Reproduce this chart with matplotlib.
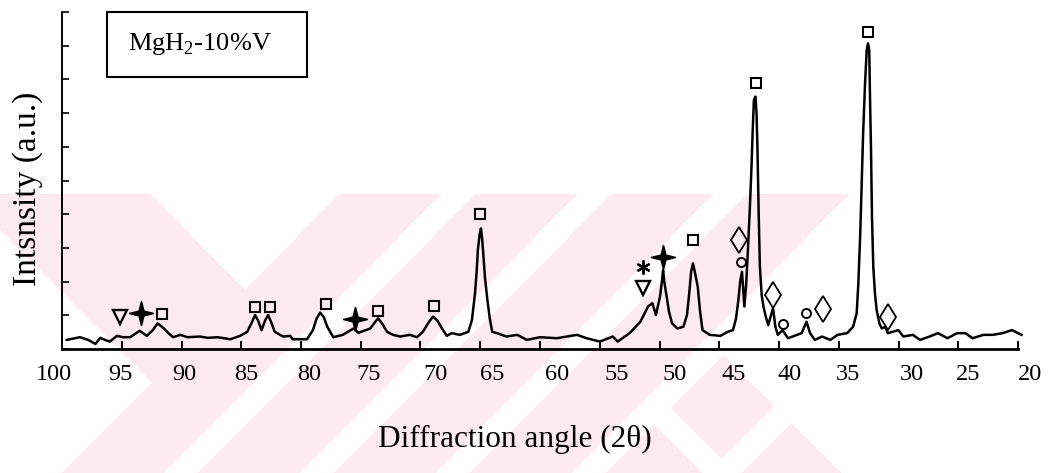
import numpy as np
import matplotlib
matplotlib.use('Agg')
import matplotlib.pyplot as plt
from matplotlib.patches import Rectangle
from matplotlib.path import Path
from matplotlib.transforms import ScaledTranslation

plt.rcParams['font.family'] = ['Liberation Serif', 'DejaVu Serif']
plt.rcParams['mathtext.fontset'] = 'custom'
plt.rcParams['mathtext.rm'] = 'Liberation Serif'

# XRD trace: diffraction angle (2theta) and intensity (a.u.)
two_theta = [99.6, 98.5, 97.8, 97.2, 96.8, 96.4, 96.0, 95.4, 94.9, 94.3,
             93.5, 92.9, 92.4, 92.0, 91.5, 91.1, 90.7, 90.1, 89.5, 88.45,
             87.8, 87.0, 85.9, 85.1, 84.5, 84.1, 83.85, 83.6, 83.3, 83.0,
             82.75, 82.5, 82.2, 81.5, 80.9, 80.7, 79.5, 79.0, 78.7, 78.4,
             78.1, 77.8, 77.3, 76.5, 75.6, 75.2, 74.6, 74.2, 73.8, 73.55,
             73.2, 72.8, 72.3, 71.7, 70.9, 70.3, 69.8, 69.3, 68.95, 68.6,
             68.2, 67.8, 67.4, 66.7, 66.0, 65.7, 65.44, 65.3, 65.2, 65.05,
             64.94, 64.85, 64.77, 64.6, 64.4, 64.2, 64.0, 63.6, 62.8, 61.9,
             61.1, 60.0, 58.6, 56.9, 56.1, 55.0, 53.9, 53.5, 52.5, 51.6,
             50.96, 50.6, 50.3, 49.96, 49.8, 49.7, 49.6, 49.4, 49.2, 48.95,
             48.5, 48.0, 47.7, 47.5, 47.35, 47.2, 47.05, 46.8, 46.6, 46.4,
             45.8, 44.9, 44.3, 43.85, 43.6, 43.4, 43.25, 43.1, 43.0, 42.9,
             42.75, 42.6, 42.45, 42.3, 42.2, 42.1, 41.97, 41.88, 41.8, 41.7,
             41.6, 41.45, 41.3, 41.1, 40.9, 40.5, 40.3, 40.1, 39.7, 39.25,
             38.5, 38.1, 37.7, 37.4, 37.0, 36.4, 35.7, 35.1, 34.3, 33.8,
             33.5, 33.36, 33.2, 33.08, 32.96, 32.8, 32.66, 32.55, 32.45, 32.38,
             32.3, 32.22, 32.11, 31.97, 31.83, 31.6, 31.4, 31.1, 30.9, 30.5,
             30.0, 29.6, 28.8, 28.2, 27.4, 26.7, 25.9, 25.1, 24.4, 23.8,
             22.9, 22.1, 21.3, 20.5, 19.7]
intensity = [0.27, 0.35, 0.27, 0.15, 0.33, 0.27, 0.22, 0.39, 0.35, 0.35,
             0.54, 0.39, 0.56, 0.76, 0.62, 0.47, 0.35, 0.42, 0.35, 0.37,
             0.33, 0.35, 0.29, 0.39, 0.51, 0.80, 1.01, 0.85, 0.56, 0.85,
             1.01, 0.80, 0.51, 0.37, 0.39, 0.29, 0.29, 0.56, 0.90, 1.08,
             0.95, 0.66, 0.35, 0.42, 0.61, 0.48, 0.56, 0.61, 0.80, 0.91,
             0.75, 0.51, 0.42, 0.37, 0.42, 0.35, 0.51, 0.80, 0.96, 0.85,
             0.61, 0.39, 0.47, 0.42, 0.51, 0.85, 1.65, 2.30, 2.94, 3.40,
             3.58, 3.30, 2.94, 2.10, 1.45, 0.90, 0.51, 0.47, 0.37, 0.42,
             0.27, 0.35, 0.32, 0.42, 0.32, 0.22, 0.37, 0.22, 0.47, 0.81,
             1.26, 1.36, 1.01, 1.55, 2.00, 2.34, 2.00, 1.55, 1.10, 0.76,
             0.61, 0.66, 1.01, 1.70, 2.30, 2.54, 2.30, 1.85, 1.10, 0.56,
             0.42, 0.39, 0.51, 0.56, 0.90, 1.45, 2.00, 2.29, 1.80, 1.26,
             1.90, 2.94, 4.10, 5.41, 6.50, 7.39, 7.49, 7.00, 5.91, 4.00,
             2.44, 1.60, 1.26, 0.95, 0.71, 1.21, 0.66, 0.42, 0.56, 0.32,
             0.42, 0.47, 0.81, 0.47, 0.27, 0.37, 0.27, 0.42, 0.47, 0.66,
             1.06, 1.95, 3.43, 4.92, 6.40, 7.88, 8.87, 9.07, 8.87, 7.39,
             5.90, 3.93, 2.44, 1.65, 1.16, 0.76, 0.61, 0.66, 0.47, 0.51,
             0.56, 0.37, 0.42, 0.27, 0.37, 0.47, 0.32, 0.47, 0.47, 0.32,
             0.42, 0.42, 0.47, 0.56, 0.42]

# phase markers (angle, height)
square_x = [91.6, 83.85, 82.6, 77.9, 73.55, 68.9, 65.0, 47.2, 41.9, 32.55]
square_y = [1.04, 1.25, 1.25, 1.34, 1.13, 1.28, 4.0, 3.23, 7.89, 9.41]
diamond_x = [43.35, 40.5, 36.3, 30.9]
diamond_y = [3.23, 1.60, 1.19, 0.95]
circle_x = [43.2, 39.7, 37.7]
circle_y = [2.58, 0.74, 1.07]
triangle_x = [95.15, 51.4]
triangle_y = [0.95, 1.81]
star_x = [93.4, 75.5, 49.7]
star_y = [1.07, 0.90, 2.73]
asterisk_x = [51.4]
asterisk_y = [2.43]

xticks = list(range(100, 15, -5))
# the scanned tick labels sit a little off their tick marks (pixels)
label_shift = [-8, -1, 3, 5, 8, 8, 15, 12, 17, 17, 15, 14, 11, 9, 13, 10, 12]

fig = plt.figure(figsize=(10.58, 4.73), dpi=100)

# faint pink watermark of the scanned page
W, H = 1058, 473
yy, xx = np.mgrid[0:H, 0:W]
band = (xx - yy >= -230) & (xx - yy <= -45)
main = (xx + yy >= 534) & (xx <= np.maximum(1058 - yy, 368 + yy))
s = xx + yy
slash = (s >= 636) & (((s - 636) % 136) < 34)
back = (xx - yy >= 230) & (xx - yy <= 262) & (s > 1044)
pink = (yy >= 195) & (band | main) & ~slash & ~back
img = np.ones((H, W, 3))
img[pink] = np.array([252, 234, 238]) / 255.0
bg = fig.add_axes([0, 0, 1, 1], zorder=-1)
bg.imshow(img, extent=(0, W, H, 0), aspect='auto', interpolation='nearest')
bg.axis('off')

ax = fig.add_axes([62/W, 124/H, 956/W, 337/H])
ax.set_facecolor('none')
ax.plot(two_theta, intensity, color='black', lw=1.8, clip_on=False, zorder=3,
        solid_joinstyle='round')

mk = dict(ls='none', color='black', clip_on=False, zorder=4)
ax.plot(square_x, square_y, marker='s', ms=7, mfc='none', mew=1.5, **mk)
ax.plot(diamond_x, diamond_y, marker='d', ms=13, mfc='none', mew=1.3, **mk)
ax.plot(circle_x, circle_y, marker='o', ms=6.5, mfc='none', mew=1.4, **mk)
ax.plot(triangle_x, triangle_y, marker='v', ms=10, mfc='none', mew=1.7, **mk)
ax.plot(asterisk_x, asterisk_y, marker=(6, 2, 0), ms=10, mew=1.6, **mk)

verts = []
for k in range(8):
    ang = np.pi / 2 + k * np.pi / 4
    r = 1.0 if k % 2 == 0 else 0.28
    verts.append((r * np.cos(ang), r * np.sin(ang)))
verts.append(verts[0])
star = Path(verts, [Path.MOVETO] + [Path.LINETO] * 7 + [Path.CLOSEPOLY])
ax.plot(star_x, star_y, marker=star, ms=17, mfc='black', mew=1.2, **mk)

ax.set_xlim(100, 20)
ax.set_ylim(0, 10)
ax.set_xticks(xticks)
ax.set_xticklabels([str(t) for t in xticks])
ax.set_yticks(range(0, 11))
ax.tick_params(axis='y', direction='in', length=5, width=1.2, labelleft=False)
ax.tick_params(axis='x', direction='in', length=6, width=1.4, pad=11, labelsize=17.5)
for lab, dx in zip(ax.get_xticklabels(), label_shift):
    lab.set_transform(lab.get_transform() + ScaledTranslation(dx / 100, 0, fig.dpi_scale_trans))

ax.spines['top'].set_visible(False)
ax.spines['right'].set_visible(False)
ax.spines['left'].set_linewidth(1.4)
ax.spines['bottom'].set_linewidth(2.0)

ax.set_xlabel('Diffraction angle (2\u03b8)', fontsize=22.5)
ax.xaxis.set_label_coords(0.474, -0.225)
ax.set_ylabel('Intsnsity (a.u.)', fontsize=24)
ax.yaxis.set_label_coords(-0.02, 0.475)

ax.add_patch(Rectangle((0.047, 0.807), 0.209, 0.193, transform=ax.transAxes,
                       fill=False, lw=1.5, ec='black', clip_on=False))
ax.text(0.069, 0.905, 'MgH$_2$-10%V', transform=ax.transAxes, fontsize=19,
        va='center', ha='left')

fig.savefig('out.png', dpi=100)
